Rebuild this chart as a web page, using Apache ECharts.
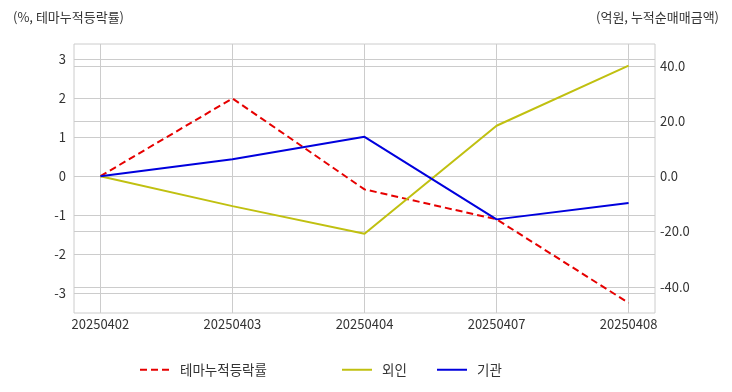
<!DOCTYPE html>
<html>
<head>
<meta charset="utf-8">
<script src="https://cdn.jsdelivr.net/npm/echarts@6/dist/echarts.min.js"></script>
<style>
html,body{margin:0;padding:0;background:#fff;}
#main{width:732px;height:392px;}
</style>
</head>
<body>
<div id="main"></div>
<script>
const categories = ['20250402', '20250403', '20250404', '20250407', '20250408'];
const themeRate = [0, 2.0, -0.34, -1.11, -3.26];
const foreign = [0, -10.8, -20.8, 18.3, 40.1];
const institution = [0, 6.2, 14.3, -15.6, -9.7];
const leftTicks = [-3, -2, -1, 0, 1, 2, 3];
const rightTicks = [-40, -20, 0, 20, 40];
const seriesNames = ['테마누적등락률', '외인', '기관'];

const FONT = '"Noto Sans CJK KR", "Noto Sans", sans-serif';
const idx = categories.map((c, i) => i);
const toPairs = arr => arr.map((v, i) => [i, v]);

const legendCommon = {
  top: 363, padding: 0, itemWidth: 30, itemHeight: 10,
  itemStyle: {opacity: 0},
  textStyle: {fontSize: 13.5, color: '#333', fontFamily: FONT, padding: [0, 0, 0, 5]}
};

const chart = echarts.init(document.getElementById('main'), null, {renderer: 'canvas'});
chart.setOption({
  animation: false,
  backgroundColor: '#fff',
  textStyle: {fontFamily: FONT},
  title: [
    {text: '(%, 테마누적등락률)', left: 8, top: 6, textStyle: {fontSize: 13, fontWeight: 'normal', color: '#333', fontFamily: FONT}},
    {text: '(억원, 누적순매매금액)', right: 8, top: 6, textStyle: {fontSize: 13, fontWeight: 'normal', color: '#333', fontFamily: FONT}}
  ],
  grid: {left: 74, right: 77, top: 44, bottom: 79, show: true, borderColor: '#cccccc', borderWidth: 1, containLabel: false},
  legend: [
    Object.assign({data: [seriesNames[0]], left: 139}, legendCommon),
    Object.assign({data: [seriesNames[1]], left: 341}, legendCommon),
    Object.assign({data: [seriesNames[2]], left: 436}, legendCommon)
  ],
  xAxis: {
    type: 'value', min: -0.2, max: 4.2,
    axisLine: {show: false},
    axisTick: {show: false, customValues: idx},
    axisLabel: {customValues: idx, formatter: v => categories[Math.round(v)], color: '#333', fontSize: 13, margin: 5, fontFamily: FONT},
    splitLine: {show: true, lineStyle: {color: '#cccccc', width: 1}}
  },
  yAxis: [
    {
      type: 'value', min: -3.52, max: 3.4, position: 'left',
      axisLine: {show: false},
      axisTick: {show: false, customValues: leftTicks},
      axisLabel: {customValues: leftTicks, color: '#333', fontSize: 13, margin: 8, fontFamily: FONT},
      splitLine: {show: true, lineStyle: {color: '#cccccc', width: 1}}
    },
    {
      type: 'value', min: -49.5, max: 47.9, position: 'right',
      axisLine: {show: false},
      axisTick: {show: false, customValues: rightTicks},
      axisLabel: {customValues: rightTicks, formatter: v => v.toFixed(1), color: '#333', fontSize: 13, margin: 5, fontFamily: FONT},
      splitLine: {show: true, lineStyle: {color: '#cccccc', width: 1}}
    }
  ],
  series: [
    {name: seriesNames[0], type: 'line', yAxisIndex: 0, data: toPairs(themeRate), symbol: 'none', color: '#e60000',
     lineStyle: {width: 2, type: [7, 4], color: '#e60000'}},
    {name: seriesNames[1], type: 'line', yAxisIndex: 1, data: toPairs(foreign), symbol: 'none', color: '#c0c010',
     lineStyle: {width: 2, color: '#c0c010'}},
    {name: seriesNames[2], type: 'line', yAxisIndex: 1, data: toPairs(institution), symbol: 'none', color: '#0000dd',
     lineStyle: {width: 2, color: '#0000dd'}}
  ]
});
</script>
</body>
</html>
